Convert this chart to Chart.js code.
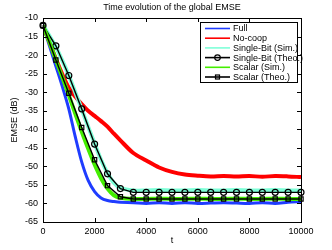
<!DOCTYPE html>
<html>
<head>
<meta charset="utf-8">
<script src="https://cdn.jsdelivr.net/npm/chart.js"></script>
<style>body{margin:0;background:#fff}</style>
</head>
<body>
<canvas id="emseChart" width="332" height="250"></canvas>
<script>
// time axis for the simulated (noisy) curves
const tSim = [0, 250, 500, 750, 1000, 1250, 1500, 1750, 2000, 2250, 2500, 2750, 3000,
  3500, 4000, 4500, 5000, 5500, 6000, 6500, 7000, 7500, 8000, 8500, 9000, 9500, 10000];
const fullSim = [-12, -17.5, -23, -28.5, -34.5, -42, -48.8, -53.8, -56.8, -58.5, -59.2, -59.5, -59.7,
  -59.8, -60, -59.8, -60, -59.8, -60, -59.9, -59.8, -59.9, -60, -59.8, -60, -59.7, -59.5];
const noCoopSim = [-12, -16.5, -21, -25.2, -28.8, -31.2, -33.2, -35, -36.4, -37.8, -39.3, -41.2, -43,
  -46.4, -48.4, -50.3, -51.5, -52.2, -52.5, -52.7, -52.6, -52.7, -52.6, -52.8, -52.6, -52.7, -52.9];
const singleBitSim = [-12, -14.8, -17.8, -21.5, -25.5, -30, -34.6, -39.3, -43.8, -48.2, -51.8, -54.5, -55.8,
  -56.5, -56.5, -56.4, -56.5, -56.5, -56.4, -56.5, -56.5, -56.4, -56.5, -56.5, -56.4, -56.5, -56.5];
const scalarSim = [-12, -16.5, -21.3, -26, -30.8, -35.8, -40.6, -45.2, -49.5, -53.2, -56, -57.8, -58.5,
  -58.8, -58.8, -58.7, -58.8, -58.8, -58.7, -58.8, -58.8, -58.7, -58.8, -58.8, -58.7, -58.8, -58.8];

// theoretical curves, marker every 500 iterations
const tTheo = [0, 500, 1000, 1500, 2000, 2500, 3000, 3500, 4000, 4500, 5000,
  5500, 6000, 6500, 7000, 7500, 8000, 8500, 9000, 9500, 10000];
const singleBitTheo = [-12, -17.5, -25.5, -34.5, -44, -52, -56, -57, -57, -57, -57,
  -57, -57, -57, -57, -57, -57, -57, -57, -57, -57];
const scalarTheo = [-12, -21.3, -30.3, -39.5, -48.2, -55.2, -58.2, -58.8, -58.8, -58.8, -58.8,
  -58.8, -58.8, -58.8, -58.8, -58.8, -58.8, -58.8, -58.8, -58.8, -58.8];

const xTicks = [0, 2000, 4000, 6000, 8000, 10000];
const yTicks = [-65, -60, -55, -50, -45, -40, -35, -30, -25, -20, -15, -10];

const FONT = "'Liberation Sans', Arial, sans-serif";
const pts = (xs, ys) => xs.map((x, i) => ({ x, y: ys[i] }));

// matlab style box, inner ticks, title and legend
const matlabFrame = {
  id: "matlabFrame",
  afterDraw(chart) {
    const { ctx, chartArea: a, scales: { x, y } } = chart;
    ctx.save();
    ctx.strokeStyle = "#000";
    ctx.lineWidth = 1;
    ctx.strokeRect(Math.round(a.left) + 0.5, Math.round(a.top) + 0.5, Math.round(a.width), Math.round(a.height));
    ctx.beginPath();
    xTicks.forEach(v => {
      const px = Math.round(x.getPixelForValue(v)) + 0.5;
      ctx.moveTo(px, a.bottom); ctx.lineTo(px, a.bottom - 4);
      ctx.moveTo(px, a.top); ctx.lineTo(px, a.top + 4);
    });
    yTicks.forEach(v => {
      const py = Math.round(y.getPixelForValue(v)) + 0.5;
      ctx.moveTo(a.left, py); ctx.lineTo(a.left + 4, py);
      ctx.moveTo(a.right, py); ctx.lineTo(a.right - 4, py);
    });
    ctx.stroke();

    ctx.fillStyle = "#000";
    ctx.font = "9px " + FONT;
    ctx.textAlign = "center";
    ctx.textBaseline = "middle";
    ctx.fillText("Time evolution of the global EMSE", (a.left + a.right) / 2, 8);

    // legend
    const lx = 200.5, ly = 22.5, lw = 97, lh = 60;
    ctx.fillStyle = "#fff";
    ctx.fillRect(lx, ly, lw, lh);
    ctx.strokeRect(lx, ly, lw, lh);
    chart.data.datasets.forEach((ds, i) => {
      const cy = 28.5 + i * 9.7;
      ctx.strokeStyle = ds.borderColor;
      ctx.lineWidth = 1.6;
      ctx.beginPath();
      ctx.moveTo(205, cy); ctx.lineTo(230, cy);
      ctx.stroke();
      if (ds.pointStyle === "circle") {
        ctx.lineWidth = 1.2;
        ctx.beginPath(); ctx.arc(217.5, cy, 2.8, 0, Math.PI * 2); ctx.stroke();
      } else if (ds.pointStyle === "rect") {
        ctx.lineWidth = 1.2;
        ctx.strokeRect(215.5, cy - 2, 4, 4);
      }
      ctx.fillStyle = "#000";
      ctx.textAlign = "left";
      ctx.fillText(ds.label, 233, cy + 0.5);
    });
    ctx.restore();
  }
};

const simLine = (label, data, color, width) => ({
  label, data: pts(tSim, data), borderColor: color, backgroundColor: color,
  borderWidth: width, pointRadius: 0, tension: 0.3, fill: false
});
const theoLine = (label, data, style) => ({
  label, data: pts(tTheo, data), borderColor: "#000", backgroundColor: "rgba(0,0,0,0)",
  borderWidth: 1.4, pointStyle: style, pointRadius: 3, pointBorderWidth: 1.2,
  tension: 0, fill: false, clip: false
});

const datasets = [
  simLine("Full", fullSim, "#1f3cff", 3),
  simLine("No-coop", noCoopSim, "#ff0000", 4),
  simLine("Single-Bit (Sim.)", singleBitSim, "#7fffd8", 4),
  theoLine("Single-Bit (Theo.)", singleBitTheo, "circle"),
  simLine("Scalar (Sim.)", scalarSim, "#44ee00", 4),
  theoLine("Scalar (Theo.)", scalarTheo, "rect")
];
// later series drawn on top, like the original plot
datasets.forEach((ds, i) => { ds.order = datasets.length - i; });

new Chart(document.getElementById("emseChart"), {
  type: "line",
  data: { datasets },
  plugins: [matlabFrame],
  options: {
    responsive: false,
    animation: false,
    devicePixelRatio: 1,
    layout: { padding: { left: 5, top: 18, right: 31, bottom: 0 } },
    plugins: { legend: { display: false }, tooltip: { enabled: false } },
    scales: {
      x: {
        type: "linear", min: 0, max: 10000,
        afterBuildTicks: s => { s.ticks = xTicks.map(value => ({ value })); },
        afterFit: s => { s.height = 28; },
        grid: { display: false, drawTicks: false }, border: { display: false },
        ticks: { color: "#000", font: { family: FONT, size: 9 }, padding: 4, maxRotation: 0, callback: v => String(v) },
        title: { display: true, text: "t", color: "#000", font: { family: FONT, size: 9 }, padding: { top: 0, bottom: 4 } }
      },
      y: {
        type: "linear", min: -65, max: -10,
        afterBuildTicks: s => { s.ticks = yTicks.map(value => ({ value })); },
        afterFit: s => { s.width = 38; },
        grid: { display: false, drawTicks: false }, border: { display: false },
        ticks: { color: "#000", font: { family: FONT, size: 9 }, padding: 5, callback: v => String(v) },
        title: { display: true, text: "EMSE (dB)", color: "#000", font: { family: FONT, size: 9 }, padding: { top: 4, bottom: 0 } }
      }
    }
  }
});
</script>
</body>
</html>
